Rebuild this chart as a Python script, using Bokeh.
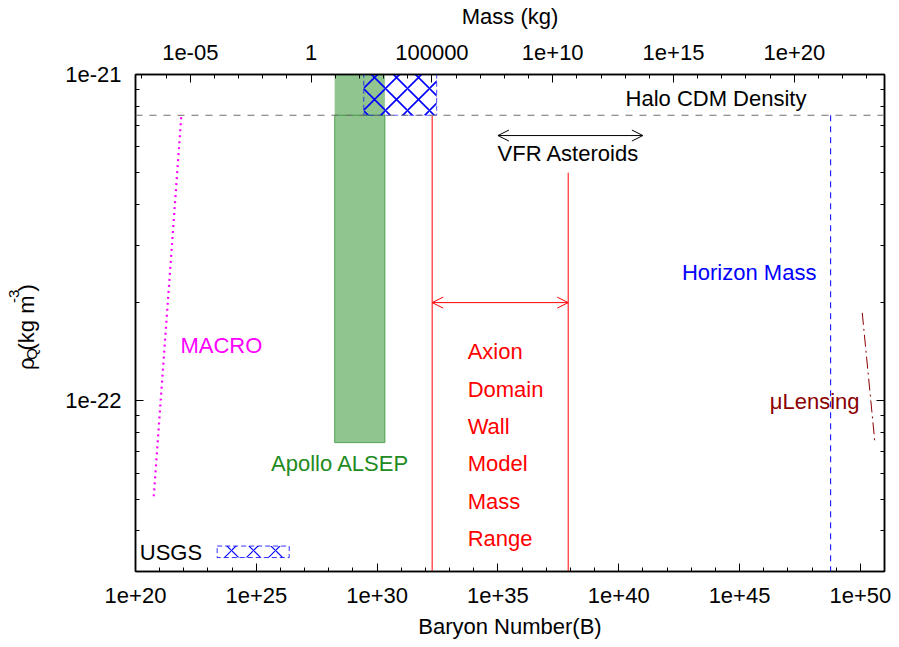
from bokeh.plotting import figure
from bokeh.layouts import row
from bokeh.models import (Range1d, LogAxis, FixedTicker, CustomJSTickFormatter,
                          Label, Arrow, OpenHead, Span)
from bokeh.embed import file_html
from bokeh.resources import INLINE
import math

# ---------------- data ----------------
x_limits = [1e20, 1e51]            # baryon number
y_limits = [3e-23, 1e-21]          # rho_Q (kg m^-3)
mass_per_baryon = 5.4e-28          # top-axis scaling

x_major = [1e20, 1e25, 1e30, 1e35, 1e40, 1e45, 1e50]
x_labels = ["1e+20", "1e+25", "1e+30", "1e+35", "1e+40", "1e+45", "1e+50"]
x_minor = [10.0 ** k for k in range(20, 52)]

mass_major = [1e-5, 1.0, 1e5, 1e10, 1e15, 1e20]
mass_labels = ["1e-05", "1", "100000", "1e+10", "1e+15", "1e+20"]
mass_minor = [10.0 ** k for k in range(-7, 24)]

y_major = [1e-22, 1e-21]
y_labels = ["1e-22", "1e-21"]
y_minor = [m * 10.0 ** e for e in (-23, -22) for m in range(2, 10)]

halo_density = 7.5e-22

macro_B = [5.7e20, 7.9e21]
macro_rho = [5.1e-23, 7.5e-22]

alsep_B = [1.75e28, 2.1e30]
alsep_bottom = 7.45e-23
alsep_top = 1e-21

hatch_B = [2.8e29, 2.9e32]
hatch_rho = [7.5e-22, 1e-21]

usgs_B = [2.4e23, 2.3e26]
usgs_rho = [3.31e-23, 3.59e-23]

axion_B = [1.9e32, 8.1e37]
axion_top = [7.5e-22, 5.0e-22]
axion_arrow_rho = 2.0e-22

vfr_B = [1e35, 1e41]
vfr_rho = 6.5e-22

horizon_B = 5.9e48

lensing_B = [1.2e50, 4.0e50]
lensing_rho = [1.86e-22, 7.46e-23]

FONT = "Liberation Sans"
FS = "22px"

TITLE_W = 55
FIG_W = 893
FIG_H = 641

# ---------------- y-title strip (own small figure, pixel coordinates) ----------------
yt = figure(width=TITLE_W, height=FIG_H, output_backend="svg", toolbar_location=None,
            x_range=Range1d(0, TITLE_W), y_range=Range1d(FIG_H, 0),
            x_axis_location=None, y_axis_location=None,
            min_border_left=0, min_border_right=0, min_border_top=0, min_border_bottom=0)
yt.outline_line_color = None
yt.xgrid.visible = False
yt.ygrid.visible = False
yt.background_fill_color = "white"
yt.border_fill_color = "white"

ang = math.pi / 2
# (text, font size, centre x, centre y) in strip pixels from top-left
ylab_parts = [
    ("ρ", FS, 25.5, 373.0),
    ("Q", "15px", 30.5, 360.5),
    ("(kg m", FS, 25.5, 320.5),
    ("-3", "15px", 13.5, 286.0),
    (")", FS, 25.5, 275.0),
]
for txt, fs, cx, cy in ylab_parts:
    yt.add_layout(Label(x=cx, y=cy, text=txt, angle=ang,
                        text_font=FONT, text_font_size=fs, text_color="black",
                        text_align="center", text_baseline="middle"))

# ---------------- main figure ----------------
p = figure(width=FIG_W - TITLE_W, height=FIG_H, output_backend="svg", toolbar_location=None,
           x_axis_type="log", y_axis_type="log",
           x_range=Range1d(*x_limits), y_range=Range1d(*y_limits),
           min_border_left=135 - TITLE_W, min_border_right=9,
           min_border_top=73, min_border_bottom=69)
p.background_fill_color = "white"
p.border_fill_color = "white"
p.xgrid.visible = False
p.ygrid.visible = False
p.outline_line_color = "black"
p.outline_line_width = 1.5

p.extra_x_ranges = {"mass": Range1d(x_limits[0] * mass_per_baryon,
                                     x_limits[1] * mass_per_baryon)}

fmt_code = """
const lt = Math.log10(tick);
for (let i = 0; i < tks.length; i++) {
  if (Math.abs(Math.log10(tks[i]) - lt) < 1e-6) return labs[i];
}
return "";
"""

def style_axis(ax, tick_vals, minor, labels, show=True):
    ax.ticker = FixedTicker(ticks=tick_vals, minor_ticks=minor)
    if show:
        ax.formatter = CustomJSTickFormatter(args=dict(tks=tick_vals, labs=labels), code=fmt_code)
    else:
        ax.formatter = CustomJSTickFormatter(code="return '';")
        ax.major_label_standoff = 0
    ax.major_tick_in = 8
    ax.major_tick_out = 0
    ax.minor_tick_in = 4
    ax.minor_tick_out = 0
    ax.axis_line_color = "black"
    ax.axis_line_width = 1.5
    ax.major_tick_line_color = "black"
    ax.minor_tick_line_color = "black"
    ax.major_label_text_font = FONT
    ax.major_label_text_font_size = FS
    ax.major_label_text_color = "black"
    ax.axis_label_text_font = FONT
    ax.axis_label_text_font_size = FS
    ax.axis_label_text_font_style = "normal"
    ax.axis_label_text_color = "black"

xb = p.xaxis[0]
style_axis(xb, x_major, x_minor, x_labels)
xb.axis_label = "Baryon Number(B)"
xb.major_label_standoff = 16
xb.axis_label_standoff = 8

yl = p.yaxis[0]
style_axis(yl, y_major, y_minor, y_labels)
yl.major_label_standoff = 14

xt = LogAxis(x_range_name="mass")
style_axis(xt, mass_major, mass_minor, mass_labels)
xt.axis_label = "Mass (kg)"
xt.major_label_standoff = 15
xt.axis_label_standoff = 13
p.add_layout(xt, "above")

yr = LogAxis()
style_axis(yr, y_major, y_minor, y_labels, show=False)
p.add_layout(yr, "right")

# ---------------- marks ----------------
p.quad(left=[alsep_B[0]], right=[alsep_B[1]], bottom=[alsep_bottom], top=[alsep_top],
       fill_color="#228B22", fill_alpha=0.5, line_color=None)
p.quad(left=[alsep_B[0]], right=[alsep_B[1]], bottom=[alsep_bottom], top=[halo_density],
       fill_color=None, line_color="#228B22", line_alpha=0.7, line_width=1)

p.quad(left=[hatch_B[0]], right=[hatch_B[1]], bottom=[hatch_rho[0]], top=[hatch_rho[1]],
       fill_color=None, hatch_pattern="x", hatch_color="blue", hatch_scale=22,
       hatch_weight=1.6, line_color="blue", line_alpha=0.6, line_dash="5 3", line_width=1.2)
p.quad(left=[usgs_B[0]], right=[usgs_B[1]], bottom=[usgs_rho[0]], top=[usgs_rho[1]],
       fill_color=None, hatch_pattern="x", hatch_color="blue", hatch_scale=22,
       hatch_weight=1.2, line_color="blue", line_alpha=0.8, line_dash="5 3", line_width=1)

p.add_layout(Span(location=halo_density, dimension="width", line_color="#707070",
                  line_dash="7 7", line_width=1.2))

p.line(x=macro_B, y=macro_rho, line_color="#ff00ff", line_width=2.2, line_dash="2 4")

p.segment(x0=axion_B, y0=axion_top, x1=axion_B, y1=[y_limits[0]] * 2,
          line_color="#ff0000", line_width=1)
p.add_layout(Arrow(start=OpenHead(size=11, line_color="#ff0000", line_width=1),
                   end=OpenHead(size=11, line_color="#ff0000", line_width=1),
                   x_start=axion_B[0], y_start=axion_arrow_rho,
                   x_end=axion_B[1], y_end=axion_arrow_rho,
                   line_color="#ff0000", line_width=1))

p.add_layout(Arrow(start=OpenHead(size=11, line_color="black", line_width=1),
                   end=OpenHead(size=11, line_color="black", line_width=1),
                   x_start=vfr_B[0], y_start=vfr_rho, x_end=vfr_B[1], y_end=vfr_rho,
                   line_color="black", line_width=1))

p.segment(x0=[horizon_B], y0=[halo_density], x1=[horizon_B], y1=[y_limits[0]],
          line_color="#0000ff", line_width=1, line_dash="6 5")

p.line(x=lensing_B, y=lensing_rho, line_color="#8b0000", line_width=1, line_dash="12 4 2 4")

# ---------------- text labels ----------------
def lab(x, y, text, color, align="left", yoff=0):
    p.add_layout(Label(x=x, y=y, text=text, text_font=FONT, text_font_size=FS,
                       text_color=color, text_align=align, text_baseline="alphabetic",
                       y_offset=yoff + 6.5))

lab(5.9e47, 8.07e-22, "Halo CDM Density", "black", "right")
lab(8.3e37, 5.48e-22, "VFR Asteroids", "black", "center")
lab(2.5e45, 2.37e-22, "Horizon Mass", "blue", "center")
lab(7.2e21, 1.41e-22, "MACRO", "#ff00ff")
for i, word in enumerate(["Axion", "Domain", "Wall", "Model", "Mass", "Range"]):
    lab(5.6e33, 1.35e-22, word, "#ff0000", yoff=-37.3 * i)
lab(9.3e49, 9.5e-23, "μLensing", "#8b0000", "right")
lab(2.96e28, 6.15e-23, "Apollo ALSEP", "#228B22", "center")
lab(1.5e20, 3.28e-23, "USGS", "black")

layout = row(yt, p, spacing=0)
open("out.html", "w").write(file_html(layout, INLINE))
